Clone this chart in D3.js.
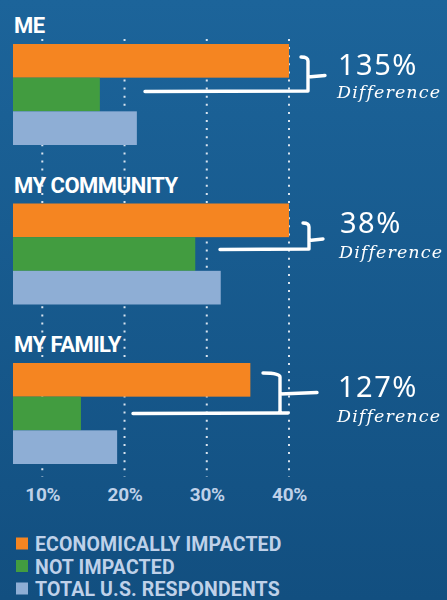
<!DOCTYPE html>
<html>
<head>
<meta charset="utf-8">
<script src="https://cdn.jsdelivr.net/npm/d3@7"></script>
<style>
  html, body { margin: 0; padding: 0; background: #175a8c; }
  svg { display: block; }
</style>
</head>
<body>
<svg id="chart" width="447" height="600"></svg>
<script>
// ---- data ----
const groups = ["ME", "MY COMMUNITY", "MY FAMILY"];
const seriesNames = ["ECONOMICALLY IMPACTED", "NOT IMPACTED", "TOTAL U.S. RESPONDENTS"];
const economicallyImpacted = [40, 40, 35.3];
const notImpacted = [17, 28.6, 14.7];
const totalRespondents = [21.5, 31.7, 19.1];
const differenceLabels = ["135%", "38%", "127%"];
const tickValues = [10, 20, 30, 40];
const tickLabels = ["10%", "20%", "30%", "40%"];

// ---- styling / layout ----
const W = 447, H = 600;
const colors = ["#f58521", "#429c40", "#8eaed5"];
const labelColor = "#bfd1e9";
const condensed = "Roboto, 'Open Sans', sans-serif";

const series = [economicallyImpacted, notImpacted, totalRespondents];
const rows = groups.map((g, i) => ({
  group: g,
  values: seriesNames.map((s, j) => ({ series: s, value: series[j][i], color: colors[j] }))
}));

const svg = d3.select("#chart");
const defs = svg.append("defs");

const grad = defs.append("linearGradient")
  .attr("id", "bg").attr("x1", 0).attr("y1", 0).attr("x2", 0).attr("y2", 1);
grad.append("stop").attr("offset", 0).attr("stop-color", "#1c649a");
grad.append("stop").attr("offset", 1).attr("stop-color", "#124f80");

const soft = defs.append("filter").attr("id", "soft")
  .attr("x", "-10%").attr("y", "-20%").attr("width", "120%").attr("height", "140%");
soft.append("feGaussianBlur").attr("stdDeviation", 0.45);

svg.append("rect").attr("width", W).attr("height", H).attr("fill", "url(#bg)");

// scales: bars are cut off at the plot's left edge
const plotLeft = 13;
const x = d3.scaleLinear().domain([10, 40]).range([42.3, 289]);
const y = d3.scaleBand().domain(groups).range([44, 464]).paddingInner(0.3668).paddingOuter(0);
const yInner = d3.scaleBand().domain(seriesNames).range([0, y.bandwidth()]);

// group titles
svg.append("g").selectAll("text").data(groups).join("text")
  .attr("x", 14)
  .attr("y", d => y(d) - 11)
  .attr("fill", "#ffffff")
  .attr("font-family", condensed)
  .attr("font-weight", 700)
  .attr("font-size", 22)
  .attr("letter-spacing", -0.5)
  .text(d => d);

// dotted vertical gridlines
svg.append("g").selectAll("line").data(tickValues).join("line")
  .attr("x1", d => x(d)).attr("x2", d => x(d))
  .attr("y1", 39).attr("y2", 477)
  .attr("stroke", "#eef3fa")
  .attr("stroke-opacity", 0.9)
  .attr("stroke-width", 2)
  .attr("stroke-dasharray", "2,6.1");

// bars
const gRows = svg.append("g").selectAll("g").data(rows).join("g")
  .attr("transform", d => `translate(0,${y(d.group)})`);
gRows.selectAll("rect").data(d => d.values).join("rect")
  .attr("x", plotLeft)
  .attr("y", d => yInner(d.series))
  .attr("width", d => x(d.value) - plotLeft)
  .attr("height", yInner.bandwidth())
  .attr("fill", d => d.color);

// axis tick labels
const axis = d3.axisBottom(x).tickValues(tickValues)
  .tickFormat((d, i) => tickLabels[i]).tickSize(0).tickPadding(0);
const axisG = svg.append("g").attr("transform", "translate(0,487)").call(axis);
axisG.select(".domain").remove();
axisG.selectAll("text")
  .attr("fill", labelColor)
  .attr("font-family", condensed)
  .attr("font-weight", 700)
  .attr("font-size", 19)
  .attr("letter-spacing", -0.3)
  .attr("dy", "0.76em");

// legend
const legend = svg.append("g").selectAll("g").data(seriesNames).join("g")
  .attr("transform", (d, i) => `translate(16,${537.5 + i * 22.5})`);
legend.append("rect")
  .attr("width", 12).attr("height", 12)
  .attr("fill", (d, i) => colors[i]);
legend.append("text")
  .attr("x", 19).attr("y", 13.5)
  .attr("fill", labelColor)
  .attr("font-family", condensed)
  .attr("font-weight", 700)
  .attr("font-size", 19.5)
  .attr("letter-spacing", 0.15)
  .text(d => d);

// hand-drawn difference brackets between the first two bars of each group
const bracketLayout = [
  { vx: 308, hookX: 301, top: 13,   bottom: 47,   lineX: 145, lineEnd: 308, tickX: 325, tickY: 32, textX: 338, numY: 31,   diffY: 54 },
  { vx: 309, hookX: 303, top: 19.5, bottom: 45.5, lineX: 220, lineEnd: 309, tickX: 323, tickY: 36, textX: 340, numY: 29.5, diffY: 54.5 },
  { vx: 280, hookX: 263, top: 10,   bottom: 50,   lineX: 133, lineEnd: 288, tickX: 317, tickY: 30, textX: 338, numY: 34,   diffY: 59 }
];

const notes = svg.append("g").attr("filter", "url(#soft)")
  .selectAll("g").data(groups).join("g")
  .attr("transform", d => `translate(0,${y(d)})`);

notes.append("path")
  .attr("d", (d, i) => {
    const b = bracketLayout[i];
    return `M${b.hookX},${b.top} Q${b.vx},${b.top} ${b.vx},${b.top + 4} L${b.vx},${b.bottom}` +
           ` M${b.lineEnd},${b.bottom} L${b.lineX},${b.bottom + 0.5}` +
           ` M${b.vx},${b.tickY + 1} L${b.tickX},${b.tickY - 0.5}`;
  })
  .attr("fill", "none")
  .attr("stroke", "#ffffff")
  .attr("stroke-width", 3.4)
  .attr("stroke-linecap", "round")
  .attr("stroke-linejoin", "round");

notes.append("text")
  .attr("x", (d, i) => bracketLayout[i].textX)
  .attr("y", (d, i) => bracketLayout[i].numY)
  .attr("fill", "#ffffff")
  .attr("font-family", "'Noto Sans', sans-serif")
  .attr("font-size", 29)
  .attr("letter-spacing", 1.5)
  .text((d, i) => differenceLabels[i]);

notes.append("text")
  .attr("x", (d, i) => bracketLayout[i].textX - 1)
  .attr("y", (d, i) => bracketLayout[i].diffY)
  .attr("fill", "#ffffff")
  .attr("font-family", "'DejaVu Serif', serif")
  .attr("font-style", "italic")
  .attr("font-size", 17.5)
  .attr("letter-spacing", 1.1)
  .text("Difference");
</script>
</body>
</html>
